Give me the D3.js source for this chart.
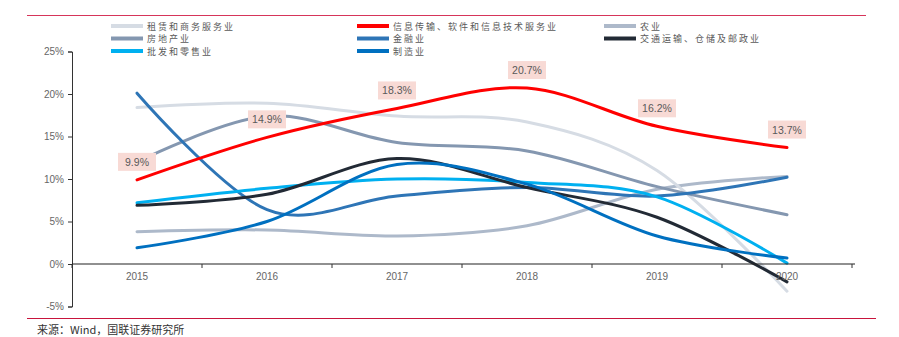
<!DOCTYPE html>
<html><head><meta charset="utf-8">
<script src="https://cdn.jsdelivr.net/npm/d3@7/dist/d3.min.js"></script>
<style>
body{margin:0;background:#fff;}
svg{display:block;font-family:"Noto Sans CJK SC","Noto Sans",sans-serif;}
</style></head>
<body><svg id="c" width="899" height="337"></svg>
<script>
const years = ["2015","2016","2017","2018","2019","2020"];
const seriesNames = ["租赁和商务服务业","信息传输、软件和信息技术服务业","农业","房地产业","金融业","交通运输、仓储及邮政业","批发和零售业","制造业"];
const leasing      = [18.4, 18.9, 17.4, 16.7, 11.0, -3.2];
const infoTech     = [9.9, 14.9, 18.3, 20.7, 16.2, 13.7];
const agriculture  = [3.8, 4.0, 3.3, 4.5, 8.8, 10.3];
const realEstate   = [12.0, 17.4, 14.3, 13.3, 9.1, 5.8];
const finance      = [20.1, 6.4, 8.0, 9.0, 8.0, 10.2];
const transport    = [6.9, 8.2, 12.4, 9.0, 5.5, -2.1];
const wholesale    = [7.2, 8.9, 10.0, 9.6, 7.9, 0.1];
const manufacturing= [1.9, 5.0, 11.7, 9.4, 3.3, 0.7];
const yTicks = [-5, 0, 5, 10, 15, 20, 25];
const labelSeries = infoTech;
const colors = ["#D6DCE4","#FF0000","#ADB9CA","#8497B0","#2E75B6","#222A35","#00B0F0","#0070C0"];
const allSeries = [leasing, infoTech, agriculture, realEstate, finance, transport, wholesale, manufacturing];

const svg = d3.select("#c");
const x = d3.scaleBand().domain(years).range([72, 852]).padding(0);
const y = d3.scaleLinear().domain([-5, 25]).range([306.5, 51.5]);
const cx = d => x(d) + x.bandwidth()/2;

// red rules
svg.append("line").attr("x1",27).attr("x2",866).attr("y1",15.5).attr("y2",15.5).attr("stroke","#D6355A").attr("stroke-width",1);
svg.append("line").attr("x1",27).attr("x2",876).attr("y1",318.5).attr("y2",318.5).attr("stroke","#C8143C").attr("stroke-width",1);

// y axis
const yAxis = svg.append("g").attr("transform","translate(72,0)")
  .call(d3.axisLeft(y).tickValues(yTicks).tickSize(4).tickFormat(d => d + "%"));
yAxis.select(".domain").attr("stroke","#333");
yAxis.selectAll(".tick line").attr("stroke","#333");
yAxis.selectAll(".tick text").attr("fill","#666").attr("font-size","10px").attr("font-family","Liberation Sans, Arial, sans-serif").attr("x",-8);

// lines
const line = d3.line().x((d,i)=>cx(years[i])).y(d=>y(d)).curve(d3.curveCardinal.tension(0));
const drawOrder = [2,0,3,4,6,5,7,1];
drawOrder.forEach(k=>{
  svg.append("path").datum(allSeries[k]).attr("d",line).attr("fill","none")
    .attr("stroke",colors[k]).attr("stroke-width",3).attr("stroke-linecap","round");
});

// x axis
const xg = svg.append("g").attr("transform",`translate(0,${y(0)})`);
xg.append("line").attr("x1",72).attr("x2",855).attr("stroke","#222").attr("stroke-width",1.2);
const bounds = years.map(d=>x(d)).concat([x(years[years.length-1])+x.bandwidth()]);
xg.selectAll("line.tk").data(bounds).join("line").attr("class","tk")
  .attr("x1",d=>d).attr("x2",d=>d).attr("y1",0).attr("y2",4).attr("stroke","#333");
xg.selectAll("text").data(years).join("text")
  .attr("x",d=>cx(d)).attr("y",16).attr("text-anchor","middle")
  .attr("fill","#666").attr("font-size","10px").attr("font-family","Liberation Sans, Arial, sans-serif")
  .text(d=>d);

// value labels
labelSeries.forEach((v,i)=>{
  const px = cx(years[i]), py = y(v) - 18;
  const g = svg.append("g");
  g.append("rect").attr("x",px-19).attr("y",py-9).attr("width",38).attr("height",18).attr("fill","#F8DAD5");
  g.append("text").attr("x",px).attr("y",py+4).attr("text-anchor","middle")
    .attr("fill","#595959").attr("font-size","10.5px").attr("font-family","Liberation Sans, Arial, sans-serif").text(v.toFixed(1)+"%");
});

// legend
const legX = [111, 357, 604], legY = [26, 38.5, 51];
seriesNames.forEach((n,i)=>{
  const col = i%3, row = Math.floor(i/3);
  const lx = legX[col], ly = legY[row];
  svg.append("line").attr("x1",lx).attr("x2",lx+32).attr("y1",ly).attr("y2",ly)
    .attr("stroke",colors[i]).attr("stroke-width",4);
  svg.append("text").attr("x",lx+36).attr("y",ly+3.5).attr("fill","#595959")
    .attr("font-size","9px").attr("letter-spacing","2px").text(n);
});

// footer
svg.append("text").attr("x",37).attr("y",334).attr("fill","#333").attr("font-size","11px").text("来源：Wind，国联证券研究所");
</script></body></html>
